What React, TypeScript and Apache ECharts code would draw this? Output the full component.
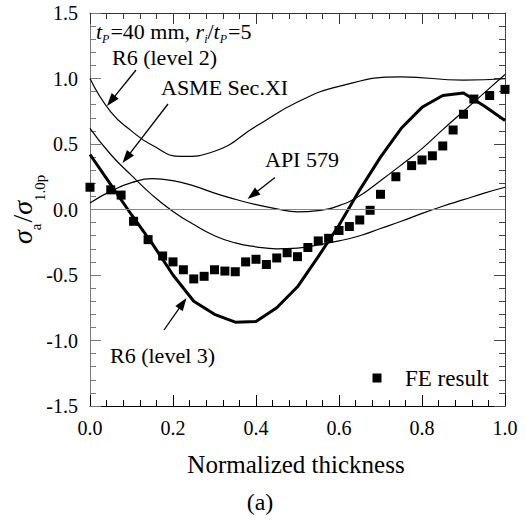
import React, { useEffect, useRef } from "react";
import * as echarts from "echarts";

// ---- data ----
const xGrid = [0, 0.05, 0.1, 0.15, 0.2, 0.25, 0.3, 0.35, 0.4, 0.45, 0.5, 0.55, 0.6, 0.65, 0.7, 0.75, 0.8, 0.85, 0.9, 0.95, 1.0];
const r6Level2X = [0, 0.05, 0.1, 0.15, 0.22, 0.3, 0.4, 0.5, 0.6, 0.75, 0.9, 1.0];
const r6Level2 = [1.0, 0.745, 0.6, 0.49, 0.405, 0.445, 0.635, 0.82, 0.94, 1.012, 0.988, 0.998];
const asmeSecXI = [0.62, 0.42, 0.26, 0.11, -0.015, -0.115, -0.2, -0.255, -0.285, -0.3, -0.295, -0.27, -0.24, -0.2, -0.145, -0.09, -0.03, 0.025, 0.075, 0.125, 0.17];
const api579 = [0.05, 0.14, 0.205, 0.235, 0.22, 0.18, 0.125, 0.078, 0.037, 0.005, -0.018, -0.008, 0.03, 0.105, 0.22, 0.34, 0.465, 0.61, 0.75, 0.89, 1.03];
const r6Level3 = [0.42, 0.19, -0.04, -0.26, -0.5, -0.7, -0.8, -0.86, -0.855, -0.75, -0.59, -0.36, -0.12, 0.15, 0.4, 0.62, 0.78, 0.87, 0.89, 0.79, 0.68];
const feX = [0, 0.05, 0.075, 0.105, 0.14, 0.175, 0.2, 0.225, 0.25, 0.275, 0.3, 0.325, 0.35, 0.375, 0.4, 0.425, 0.45, 0.475, 0.5, 0.525, 0.55, 0.575, 0.6, 0.625, 0.65, 0.675, 0.7, 0.737, 0.775, 0.8, 0.825, 0.85, 0.875, 0.9, 0.925, 0.963, 1.0];
const feY = [0.17, 0.15, 0.11, -0.09, -0.23, -0.355, -0.4, -0.46, -0.53, -0.51, -0.46, -0.47, -0.475, -0.4, -0.38, -0.42, -0.37, -0.33, -0.36, -0.29, -0.24, -0.22, -0.16, -0.13, -0.08, -0.006, 0.116, 0.25, 0.335, 0.378, 0.41, 0.485, 0.607, 0.727, 0.843, 0.87, 0.917];
const xTickValues = [0, 0.2, 0.4, 0.6, 0.8, 1.0];
const yTickValues = [-1.5, -1.0, -0.5, 0, 0.5, 1.0, 1.5];

const FONT = "Liberation Serif";

type Piece = { t: string; size: number; italic?: boolean; dy?: number; dx?: number };

function layoutPieces(pieces: Piece[], x0: number, baseline: number) {
  const ctx = document.createElement("canvas").getContext("2d")!;
  let x = x0;
  const els: any[] = [];
  for (const p of pieces) {
    ctx.font = `${p.italic ? "italic " : ""}${p.size}px "${FONT}"`;
    const w = ctx.measureText(p.t).width;
    x += p.dx || 0;
    els.push({
      type: "text",
      x,
      y: baseline + (p.dy || 0) - 0.34 * p.size,
      z: 10,
      style: {
        text: p.t,
        fontSize: p.size,
        fontFamily: FONT,
        fontStyle: p.italic ? "italic" : "normal",
        fill: "#000",
        align: "left",
        verticalAlign: "middle",
      },
    });
    x += w;
  }
  return els;
}

function arrow(x1: number, y1: number, x2: number, y2: number) {
  const L = 13, W = 4.5;
  const dx = x2 - x1, dy = y2 - y1;
  const len = Math.hypot(dx, dy);
  const ux = dx / len, uy = dy / len;
  const bx = x2 - ux * L, by = y2 - uy * L;
  const px = -uy, py = ux;
  return [
    { type: "line", z: 10, shape: { x1, y1, x2: bx + ux * 2, y2: by + uy * 2 }, style: { stroke: "#000", lineWidth: 1.3 } },
    { type: "polygon", z: 10, shape: { points: [[x2, y2], [bx + px * W, by + py * W], [bx - px * W, by - py * W]] }, style: { fill: "#000" } },
  ];
}

function label(text: string, x: number, y: number, size: number, align = "left") {
  return {
    type: "text", x, y, z: 10,
    style: { text, fontSize: size, fontFamily: FONT, fill: "#000", align, verticalAlign: "middle" },
  };
}

const pair = (xs: number[], ys: number[]) => xs.map((x, i) => [x, ys[i]]);

export default function App() {
  const ref = useRef<HTMLDivElement>(null);
  useEffect(() => {
    document.body.style.margin = "0";
    const chart = echarts.init(ref.current!, undefined, { renderer: "svg" });

    const tickCommon = (color: string, showLabel: boolean, fmt: (v: number) => string) => ({
      axisLine: { show: true, onZero: false, lineStyle: { color, width: 1 } },
      axisTick: { show: true, inside: true, length: 11, lineStyle: { color, width: 1 } },
      minorTick: { show: true, length: 6, lineStyle: { color, width: 1 } },
      splitLine: { show: false },
      minorSplitLine: { show: false },
      axisLabel: { show: showLabel, margin: 12, fontSize: 20, fontFamily: FONT, color: "#000", formatter: fmt },
    });

    const fmtX = (v: number) => {
      const t = xTickValues.find((k) => Math.abs(k - v) < 1e-6);
      return t === undefined ? "" : t.toFixed(1);
    };
    const fmtY = (v: number) => {
      const t = yTickValues.find((k) => Math.abs(k - v) < 1e-6);
      return t === undefined ? "" : t.toFixed(1);
    };

    const thin = { color: "#000", width: 1.2 };

    const yLabel = {
      type: "group",
      x: 32,
      y: 244,
      rotation: Math.PI / 2,
      children: layoutPieces(
        [
          { t: "σ", size: 28, italic: true },
          { t: "a", size: 15, dy: 9 },
          { t: "/", size: 28, dx: 1 },
          { t: "σ", size: 28, italic: true },
          { t: "1.0p", size: 15, dy: 13 },
        ],
        0,
        0
      ),
    };

    const topText = layoutPieces(
      [
        { t: "t", size: 22, italic: true },
        { t: "P", size: 12, italic: true, dy: 4 },
        { t: "=40 mm, ", size: 22, dx: 1 },
        { t: "r", size: 22, italic: true },
        { t: "i", size: 12, italic: true, dy: 4 },
        { t: "/", size: 22 },
        { t: "t", size: 22, italic: true },
        { t: "P", size: 12, italic: true, dy: 4 },
        { t: "=5", size: 22, dx: 1 },
      ],
      96,
      39
    );

    chart.setOption({
      animation: false,
      grid: { left: 90, right: 21, top: 13, bottom: 119 },
      xAxis: [
        { type: "value", min: 0, max: 1, interval: 0.2, position: "bottom", minorTick: { splitNumber: 4 }, ...tickCommon("#000", true, fmtX) },
        { type: "value", min: 0, max: 1, interval: 0.2, position: "top", ...tickCommon("#333", false, fmtX) },
      ],
      yAxis: [
        { type: "value", min: -1.5, max: 1.5, interval: 0.5, position: "left", ...tickCommon("#777", true, fmtY) },
        { type: "value", min: -1.5, max: 1.5, interval: 0.5, position: "right", ...tickCommon("#444", false, fmtY) },
      ],
      series: [
        {
          name: "R6 (level 2)", type: "line", data: pair(r6Level2X, r6Level2), smooth: 0.5, showSymbol: false, lineStyle: thin,
          markLine: { silent: true, symbol: "none", label: { show: false }, lineStyle: { color: "#888", width: 1, type: "solid" }, data: [{ yAxis: 0 }] },
        },
        { name: "ASME Sec.XI", type: "line", data: pair(xGrid, asmeSecXI), smooth: 0.5, showSymbol: false, lineStyle: thin },
        { name: "API 579", type: "line", data: pair(xGrid, api579), smooth: 0.5, showSymbol: false, lineStyle: thin },
        { name: "R6 (level 3)", type: "line", data: pair(xGrid, r6Level3), smooth: false, showSymbol: false, lineStyle: { color: "#000", width: 3 } },
        { name: "FE result", type: "scatter", data: pair(feX, feY), symbol: "rect", symbolSize: 9, itemStyle: { color: "#000", opacity: 1 } },
      ],
      graphic: [
        ...topText,
        label("R6 (level 2)", 112, 57, 22),
        label("ASME Sec.XI", 161, 87, 22),
        label("API 579", 265, 159.5, 22),
        label("R6 (level 3)", 110, 355, 22),
        { type: "rect", z: 10, shape: { x: 372.5, y: 373.5, width: 9, height: 9 }, style: { fill: "#000" } },
        label("FE result", 405, 378.5, 23),
        label("Normalized thickness", 296, 464, 25, "center"),
        label("(a)", 260, 502, 24, "center"),
        yLabel,
        ...arrow(136, 70, 107, 106),
        ...arrow(168, 104, 122.5, 163),
        ...arrow(275, 177.5, 247.5, 199),
        ...arrow(164, 330, 186.5, 298),
      ],
    });
    return () => chart.dispose();
  }, []);
  return <div ref={ref} style={{ width: 526, height: 525 }} />;
}
